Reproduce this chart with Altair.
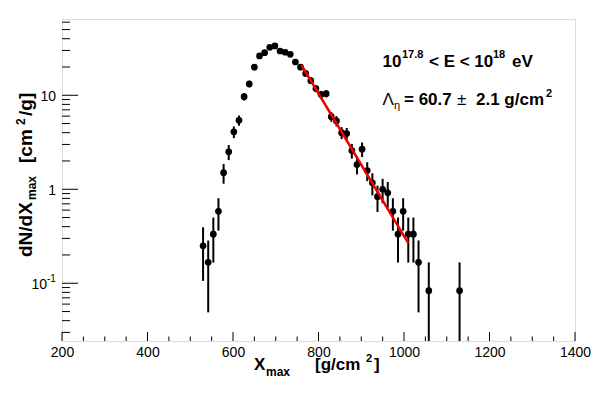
import altair as alt
import pandas as pd

# ---- data ----
xmax = [530, 542, 554, 566, 578, 590, 602, 614, 626, 638, 650, 662, 674, 686, 698,
        710, 722, 734, 746, 758, 770, 782, 794, 806, 818, 830, 842, 854, 866, 878,
        890, 902, 914, 926, 938, 950, 962, 974, 986, 998, 1010, 1022, 1034, 1058, 1130]
dndx = [0.250, 0.167, 0.333, 0.583, 1.50, 2.50, 4.08, 5.42, 9.67, 13.2, 19.9, 26.2, 28.4, 32.4, 33.5,
        29.6, 28.7, 27.3, 22.6, 19.9, 17.1, 14.3, 11.8, 10.2, 10.4, 5.92, 5.33, 4.00, 3.92, 2.58,
        1.83, 2.67, 1.58, 1.17, 0.833, 1.00, 0.917, 0.583, 0.333, 0.583, 0.333, 0.333, 0.167, 0.0833, 0.0833]
err = [0.144, 0.118, 0.167, 0.220, 0.354, 0.456, 0.583, 0.672, 0.898, 1.05, 1.29, 1.48, 1.54, 1.64, 1.67,
       1.57, 1.55, 1.51, 1.37, 1.29, 1.19, 1.09, 0.99, 0.92, 0.93, 0.70, 0.67, 0.58, 0.57, 0.46,
       0.39, 0.47, 0.36, 0.31, 0.26, 0.29, 0.28, 0.220, 0.167, 0.220, 0.167, 0.167, 0.118, 0.0833, 0.0833]

fit_x = [760, 1010]
fit_y = [21.0, 0.267]

x_major = [200, 400, 600, 800, 1000, 1200, 1400]
x_minor = [250, 300, 350, 450, 500, 550, 650, 700, 750, 850, 900, 950,
           1050, 1100, 1150, 1250, 1300, 1350]
y_major = [0.1, 1, 10]
y_minor = [0.03, 0.04, 0.05, 0.06, 0.07, 0.08, 0.09,
           0.2, 0.3, 0.4, 0.5, 0.6, 0.7, 0.8, 0.9,
           2, 3, 4, 5, 6, 7, 8, 9, 20, 30, 40, 50, 60]

W, H = 513, 322
FONT = "Liberation Sans"

df = pd.DataFrame({"x": xmax, "y": dndx, "e": err})
df["lo"] = [max(v - e, 1e-3) for v, e in zip(dndx, err)]
df["hi"] = [v + e for v, e in zip(dndx, err)]

xscale = alt.Scale(domain=[200, 1400], nice=False, zero=False)
yscale = alt.Scale(type="log", domain=[0.0243, 64.8], nice=False)
xaxis = alt.Axis(values=x_major, ticks=False, domain=False, grid=False, title=None, format="d",
                 labelFont=FONT, labelFontSize=14, labelColor="black", labelPadding=4,
                 labelFlush=False, labelOverlap=False)

base = alt.Chart(df)
bars = base.mark_rule(color="black", strokeWidth=2, clip=True).encode(
    x=alt.X("x:Q", scale=xscale, axis=xaxis),
    y=alt.Y("lo:Q", scale=yscale, axis=None),
    y2="hi:Q")
pts = base.mark_point(filled=True, shape="circle", size=45, color="black", opacity=1).encode(
    x=alt.X("x:Q", scale=xscale, axis=xaxis),
    y=alt.Y("y:Q", scale=yscale, axis=None))

fit = alt.Chart(pd.DataFrame({"x": fit_x, "y": fit_y})).mark_line(color="#ee0000", strokeWidth=2.5).encode(
    x=alt.X("x:Q", scale=xscale, axis=xaxis),
    y=alt.Y("y:Q", scale=yscale, axis=None))

def xt(vals, length):
    return alt.Chart(pd.DataFrame({"v": vals})).mark_rule(color="black", strokeWidth=1).encode(
        x=alt.X("v:Q", scale=xscale, axis=xaxis),
        y=alt.value(H), y2=alt.value(H - length))

def yt(vals, length):
    return alt.Chart(pd.DataFrame({"v": vals})).mark_rule(color="black", strokeWidth=1).encode(
        y=alt.Y("v:Q", scale=yscale, axis=None),
        x=alt.value(0), x2=alt.value(length))

ylab = pd.DataFrame({"v": [10, 1, 0.1], "t": ["10", "1", "10"], "dx": [-6, -6, -15]})
ylabels = []
for v, t, dx in zip(ylab["v"], ylab["t"], ylab["dx"]):
    ylabels.append(alt.Chart(pd.DataFrame({"v": [v], "t": [t]})).mark_text(
        font=FONT, fontSize=14, align="right", baseline="middle", color="black", dy=2).encode(
        y=alt.Y("v:Q", scale=yscale, axis=None), x=alt.value(dx), text="t:N"))
ylabels.append(alt.Chart(pd.DataFrame({"v": [0.1], "t": ["-1"]})).mark_text(
    font=FONT, fontSize=10, align="left", baseline="middle", color="black", dy=-4).encode(
    y=alt.Y("v:Q", scale=yscale, axis=None), x=alt.value(-15), text="t:N"))

dummy = pd.DataFrame({"a": [0]})

def label(txt, x, y, size, bold=True, angle=0, font=FONT):
    kw = dict(text=txt, fontSize=size, fontWeight="bold" if bold else "normal", font=font,
              align="left", baseline="alphabetic", color="black")
    if angle:
        kw["angle"] = angle
    return alt.Chart(dummy).mark_text(**kw).encode(x=alt.value(x), y=alt.value(y))

texts = [
    # y title (rotated)
    label("dN/dX", -30, 238, 19, angle=270),
    label("max", -26, 181, 12, angle=270),
    label("[cm", -30, 144, 19, angle=270),
    label("2", -37, 106, 12, angle=270),
    label("/g]", -30, 97, 19, angle=270),
    # x title
    label("X", 192, 351, 17),
    label("max", 204, 357, 12),
    label("[g/cm", 253, 351, 17),
    label("2", 304, 343, 11),
    label("]", 312, 351, 17),
    # annotation line 1
    label("10", 320.5, 48, 17),
    label("17.8", 340, 39, 11),
    label("< E < 10", 367, 48, 17),
    label("18", 431, 39, 11),
    label("eV", 450, 48, 17),
    # annotation line 2
    label("\u039b", 320.5, 86, 17, bold=False),
    label("\u03b7", 332, 90, 11, bold=False),
    label("= 60.7", 342, 86, 17),
    label("\u00b1", 395, 86, 17, bold=False),
    label("2.1 g/cm", 414, 86, 17),
    label("2", 484, 78, 11),
]

chart = alt.layer(bars, pts, fit, xt(x_major, 9), xt(x_minor, 4.5), yt(y_major, 16), yt(y_minor, 8),
                  *ylabels, *texts).properties(
    width=W, height=H,
    padding={"left": 54, "top": 11, "right": 23, "bottom": 45},
    autosize=alt.AutoSizeParams(type="none"),
).configure_view(stroke="black", strokeWidth=1).configure(background="white")

chart.save("out.html", embed_options={"renderer": "svg", "actions": False})
